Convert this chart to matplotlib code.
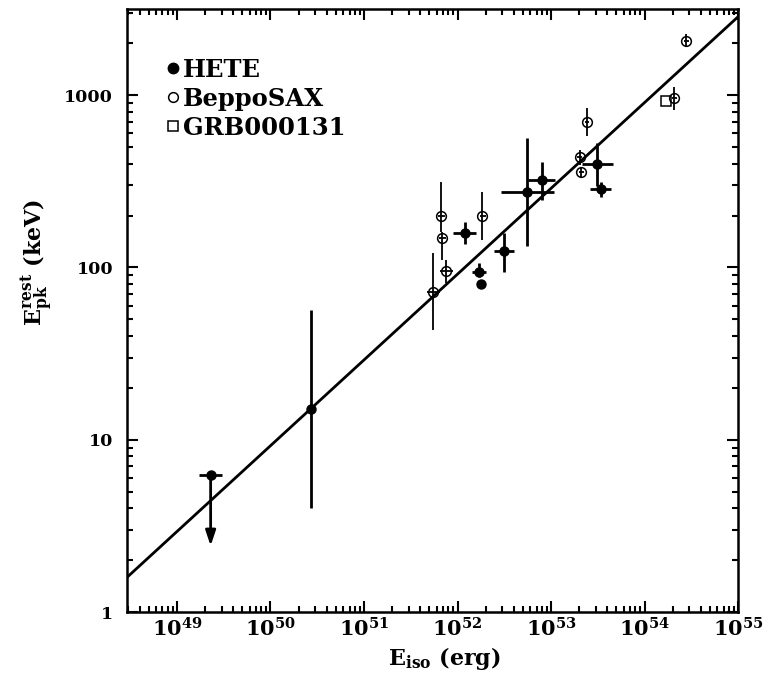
"""Rest-frame peak energy vs isotropic energy for HETE and BeppoSAX bursts."""

import numpy as np
import matplotlib
matplotlib.use('Agg')
import matplotlib.pyplot as plt
from matplotlib.lines import Line2D
from matplotlib.ticker import FixedLocator, FuncFormatter, LogLocator, NullFormatter

plt.rcParams['font.family'] = 'DejaVu Serif'
plt.rcParams['font.weight'] = 'bold'
plt.rcParams['mathtext.fontset'] = 'custom'
plt.rcParams['mathtext.rm'] = 'DejaVu Serif:bold'
plt.rcParams['mathtext.it'] = 'DejaVu Serif:bold'
plt.rcParams['mathtext.bf'] = 'DejaVu Serif:bold'

# HETE bursts (filled): Eiso [erg], Epk [keV], error ranges
hete_eiso = [2.73e50, 1.19e52, 1.70e52, 3.14e52, 5.58e52, 8.07e52, 3.13e53, 3.39e53]
hete_epk = [15.1, 159, 93.7, 124.5, 275, 321, 398, 284]
hete_eiso_lo = [2.73e50, 8.95e51, 1.44e52, 2.45e52, 2.89e52, 5.68e52, 2.16e53, 2.58e53]
hete_eiso_hi = [2.73e50, 1.56e52, 2.00e52, 4.02e52, 1.07e53, 1.11e53, 4.58e53, 4.40e53]
hete_epk_lo = [4.0, 137, 88.3, 94.4, 133, 246, 297, 255]
hete_epk_hi = [56.6, 184, 105.6, 158, 564, 411, 525, 314]

# HETE point without error bars
hete_bare_eiso = [1.77e52]
hete_bare_epk = [80]

# HETE upper limit
lim_eiso = [2.29e49]
lim_epk = [6.2]
lim_eiso_lo = [1.74e49]
lim_eiso_hi = [3.02e49]
lim_epk_arrow = [2.42]

# BeppoSAX bursts (open circles)
sax_eiso = [6.73e51, 6.90e51, 1.85e52, 7.60e51, 5.47e51, 2.02e53, 2.11e53, 2.42e53, 2.09e54, 2.79e54]
sax_epk = [199, 147.5, 199, 95.3, 72.3, 435, 356, 698, 958, 2070]
sax_eiso_lo = [6.2e51, 6.3e51, 1.72e52, 6.46e51, 4.66e51, 1.9e53, 1.98e53, 2.3e53, 1.98e54, 2.62e54]
sax_eiso_hi = [7.3e51, 7.5e51, 2.0e52, 8.95e51, 6.46e51, 2.15e53, 2.24e53, 2.55e53, 2.2e54, 2.97e54]
sax_epk_lo = [160, 110, 144, 80.9, 43.3, 393, 333, 579, 820, 1900]
sax_epk_hi = [314, 160, 275, 110, 120.8, 480, 376, 845, 1110, 2250]

# GRB000131 (open square)
grb_eiso = [1.71e54]
grb_epk = [929]

# Best-fit power law, end points
fit_eiso = [10**48.466, 1.0e55]
fit_epk = [1.59, 2850]


def asym(val, lo, hi):
    val, lo, hi = np.asarray(val), np.asarray(lo), np.asarray(hi)
    return np.vstack([val - lo, hi - val])


fig = plt.figure(figsize=(7.7, 6.77), dpi=100)
ax = fig.add_axes([0.165, 0.096, 0.7935, 0.8907])
ax.set_xscale('log')
ax.set_yscale('log')

ax.plot(fit_eiso, fit_epk, color='black', lw=2.0, zorder=2)

ax.errorbar(hete_eiso, hete_epk,
            xerr=asym(hete_eiso, hete_eiso_lo, hete_eiso_hi),
            yerr=asym(hete_epk, hete_epk_lo, hete_epk_hi),
            fmt='o', ms=6.5, color='black', mfc='black', elinewidth=2.0, capsize=0, zorder=3)
ax.plot(hete_bare_eiso, hete_bare_epk, 'o', ms=6.5, color='black', zorder=3)

ax.errorbar(lim_eiso, lim_epk, xerr=asym(lim_eiso, lim_eiso_lo, lim_eiso_hi),
            fmt='o', ms=6.5, color='black', elinewidth=2.0, capsize=0, zorder=3)
for x, y, ya in zip(lim_eiso, lim_epk, lim_epk_arrow):
    ax.annotate('', xy=(x, ya), xytext=(x, y),
                arrowprops=dict(arrowstyle='-|>,head_length=0.9,head_width=0.3',
                                color='black', lw=2.0, shrinkA=0, shrinkB=0))

ax.errorbar(sax_eiso, sax_epk,
            xerr=asym(sax_eiso, sax_eiso_lo, sax_eiso_hi),
            yerr=asym(sax_epk, sax_epk_lo, sax_epk_hi),
            fmt='o', ms=7, color='black', mfc='none', mew=1.1, elinewidth=1.3, capsize=0, zorder=4)
ax.plot(grb_eiso, grb_epk, 's', ms=7, mfc='white', mec='black', mew=1.1, zorder=4)

ax.set_xlim(10**48.466, 1e55)
ax.set_ylim(1, 10**3.5)

ax.xaxis.set_major_locator(FixedLocator([10.0**k for k in range(49, 56)]))
ax.xaxis.set_minor_locator(LogLocator(base=10, subs=np.arange(2, 10), numticks=20))
ax.xaxis.set_major_formatter(FuncFormatter(lambda v, p: r'$10^{%d}$' % round(np.log10(v))))
ax.xaxis.set_minor_formatter(NullFormatter())
ax.yaxis.set_major_locator(FixedLocator([1, 10, 100, 1000]))
ax.yaxis.set_minor_locator(LogLocator(base=10, subs=np.arange(2, 10), numticks=20))
ax.yaxis.set_major_formatter(FuncFormatter(lambda v, p: '%d' % v))
ax.yaxis.set_minor_formatter(NullFormatter())

ax.tick_params(which='both', direction='in', top=True, right=True, width=1.5)
ax.tick_params(which='major', length=8)
ax.tick_params(which='minor', length=4)
ax.tick_params(axis='x', which='major', labelsize=15, pad=4)
ax.tick_params(axis='y', which='major', labelsize=12.5, pad=10)
for sp in ax.spines.values():
    sp.set_linewidth(1.8)

ax.set_xlabel(r'$\mathrm{E_{iso}}$ (erg)', fontsize=16, fontweight='bold')
ax.set_ylabel(r'$\mathrm{E^{rest}_{pk}}$ (keV)', fontsize=16, fontweight='bold')
ax.xaxis.set_label_coords(0.52, -0.055)
ax.yaxis.set_label_coords(-0.12, 0.58)

handles = [
    Line2D([], [], marker='o', ls='none', ms=7.5, color='black', mfc='black'),
    Line2D([], [], marker='o', ls='none', ms=7, color='black', mfc='white', mew=1.1),
    Line2D([], [], marker='s', ls='none', ms=6.5, color='black', mfc='white', mew=1.1),
]
ax.legend(handles, ['HETE', 'BeppoSAX', 'GRB000131'], loc='upper left',
          bbox_to_anchor=(0.05, 0.935), frameon=False, handlelength=0.5,
          handletextpad=0.15, labelspacing=0.2, borderaxespad=0,
          prop=dict(family='DejaVu Serif', weight='bold', size=17.5))

fig.savefig('out.png', dpi=100)
